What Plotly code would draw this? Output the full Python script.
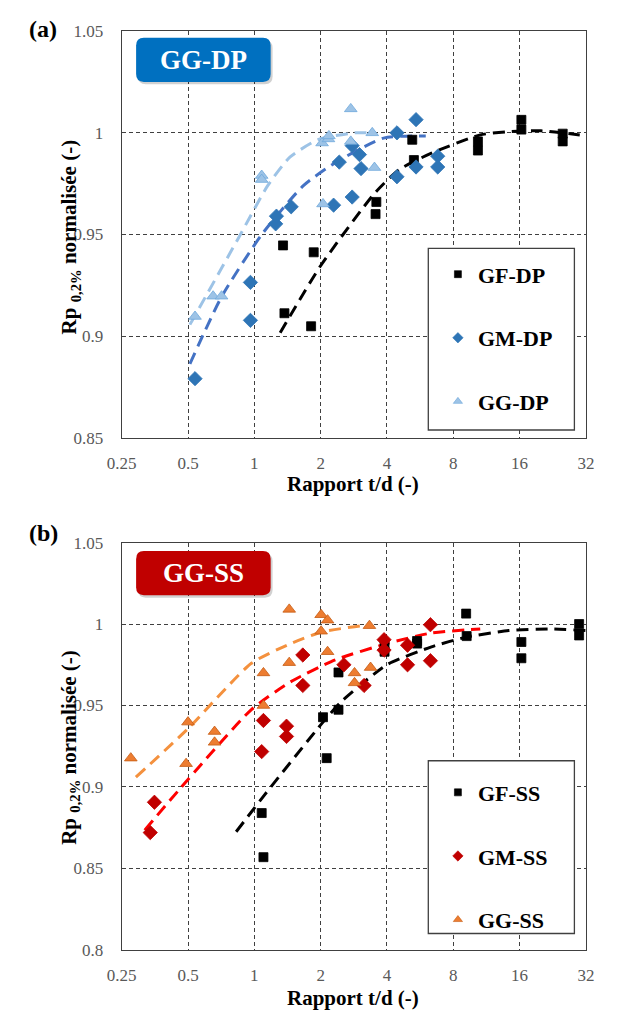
import plotly.graph_objects as go
import math

W, H = 618, 1022

# ---------------- data ----------------
x_ticks = [0.25, 0.5, 1, 2, 4, 8, 16, 32]
x_tick_text = ["0.25", "0.5", "1", "2", "4", "8", "16", "32"]
y_ticks_a = [0.85, 0.9, 0.95, 1.0, 1.05]
y_text_a = ["0.85", "0.9", "0.95", "1", "1.05"]
y_ticks_b = [0.8, 0.85, 0.9, 0.95, 1.0, 1.05]
y_text_b = ["0.8", "0.85", "0.9", "0.95", "1", "1.05"]

# (a) DP series
gf_dp_x = [1.35, 1.37, 1.86, 1.81, 3.58, 3.55, 5.21, 5.3, 10.35, 10.35, 16.3, 16.3, 25.1, 25.1]
gf_dp_y = [0.9446, 0.9112, 0.9412, 0.9048, 0.966, 0.960, 0.9966, 0.9866, 0.9958, 0.9913, 1.0064, 1.0016, 0.9996, 0.9958]
gm_dp_x = [0.538, 0.96, 0.96, 1.25, 1.26, 1.47, 2.29, 2.43, 2.78, 2.78, 3.0, 3.05, 4.44, 4.44, 5.42, 5.42, 6.8, 6.8]
gm_dp_y = [0.879, 0.9264, 0.9077, 0.9552, 0.959, 0.9636, 0.9644, 0.9856, 0.9937, 0.9684, 0.9893, 0.9824, 1.0, 0.9784, 1.0065, 0.9832, 0.9885, 0.9832]
gg_dp_x = [0.538, 0.65, 0.71, 1.08, 1.08, 2.03, 2.05, 2.17, 2.18, 2.74, 2.74, 3.43, 3.51]
gg_dp_y = [0.9096, 0.9196, 0.9196, 0.979, 0.977, 0.995, 0.965, 0.997, 0.9985, 1.0118, 0.9958, 1.0, 0.9829]

# (a) trend lines
fit_gf_dp_x = [1.31, 2.0, 3.55, 4.56, 6.37, 10.6, 14.2, 20, 30]
fit_gf_dp_y = [0.9016, 0.9346, 0.9708, 0.982, 0.990, 0.999, 1.0006, 1.001, 0.999]
fit_gm_dp_x = [0.51, 0.71, 1.08, 1.67, 2.33, 3.86, 6.0]
fit_gm_dp_y = [0.8863, 0.9193, 0.9499, 0.974, 0.9853, 0.9974, 0.9985]
fit_gg_dp_x = [0.51, 0.855, 1.15, 1.45, 1.96, 2.85, 3.3]
fit_gg_dp_y = [0.9056, 0.949, 0.974, 0.988, 0.9968, 1.0, 1.0]

# (b) SS series
gf_ss_x = [1.08, 1.1, 2.05, 2.13, 2.41, 2.41, 3.9, 3.9, 5.48, 5.48, 9.15, 9.2, 16.3, 16.3, 29.8, 29.8]
gf_ss_y = [0.884, 0.8569, 0.9428, 0.9177, 0.9703, 0.9474, 0.987, 0.983, 0.9896, 0.988, 1.0064, 0.9926, 0.989, 0.979, 1.0, 0.993]
gm_ss_x = [0.337, 0.352, 1.08, 1.1, 1.4, 1.4, 1.66, 1.66, 2.55, 3.15, 3.88, 3.88, 4.96, 4.96, 6.3, 6.3]
gm_ss_y = [0.872, 0.8906, 0.9217, 0.9408, 0.9373, 0.931, 0.981, 0.9623, 0.975, 0.9623, 0.9904, 0.984, 0.987, 0.975, 0.9996, 0.9775]
gg_ss_x = [0.275, 0.49, 0.5, 0.66, 0.66, 1.1, 1.1, 1.44, 1.44, 2.01, 2.01, 2.15, 2.15, 2.85, 2.85, 3.33, 3.37]
gg_ss_y = [0.9177, 0.9143, 0.9398, 0.934, 0.9274, 0.950, 0.97, 1.009, 0.9763, 1.0057, 0.9956, 1.0024, 0.983, 0.97, 0.9639, 0.999, 0.9733]

fit_gf_ss_x = [0.827, 1.12, 2.05, 2.5, 4.0, 6.37, 9.2, 14.3, 22, 32]
fit_gf_ss_y = [0.8725, 0.8956, 0.9398, 0.9528, 0.975, 0.986, 0.992, 0.996, 0.997, 0.996]
fit_gm_ss_x = [0.318, 0.5, 0.97, 1.46, 2.33, 4.0, 6.37, 10.6]
fit_gm_ss_y = [0.8735, 0.9046, 0.9475, 0.9645, 0.978, 0.988, 0.9945, 0.997]
fit_gg_ss_x = [0.29, 0.5, 0.97, 1.46, 2.01, 3.1, 3.4]
fit_gg_ss_y = [0.906, 0.9358, 0.9759, 0.988, 0.995, 0.999, 0.999]

# ---------------- styling ----------------
SERIF = "Liberation Serif"
C_BLACK = "#000000"
C_GM_DP = "#2E75B6"
C_GG_DP = "#9DC3E6"
C_GM_SS = "#C00000"
C_GG_SS = "#ED7D31"


def px(x):
    return x / W


def py(y):
    return 1 - y / H


def rrect(x0, y0, x1, y1, r):
    return (f"M {px(x0 + r)},{py(y0)} L {px(x1 - r)},{py(y0)} Q {px(x1)},{py(y0)} {px(x1)},{py(y0 + r)} "
            f"L {px(x1)},{py(y1 - r)} Q {px(x1)},{py(y1)} {px(x1 - r)},{py(y1)} "
            f"L {px(x0 + r)},{py(y1)} Q {px(x0)},{py(y1)} {px(x0)},{py(y1 - r)} "
            f"L {px(x0)},{py(y0 + r)} Q {px(x0)},{py(y0)} {px(x0 + r)},{py(y0)} Z")


fig = go.Figure()

dash = "12px,7px"


def add_fit(x, y, color, xa, ya):
    fig.add_trace(go.Scatter(x=x, y=y, mode="lines",
                             line=dict(color=color, width=3, dash=dash, shape="spline", smoothing=0.6),
                             showlegend=False, hoverinfo="skip", xaxis=xa, yaxis=ya))


def add_pts(x, y, name, symbol, color, size, line_color, legend, group, xa, ya, leg_size):
    fig.add_trace(go.Scatter(x=x, y=y, mode="markers", name=name, showlegend=False,
                             marker=dict(symbol=symbol, color=color, size=size, line=dict(color=line_color, width=0.8)),
                             legendgroup=group, xaxis=xa, yaxis=ya))
    # legend entry with the small marker of the reference legend
    fig.add_trace(go.Scatter(x=[None], y=[None], mode="markers", name=f"<b>{name}</b>",
                             marker=dict(symbol=symbol, color=color, size=leg_size, line=dict(color=line_color, width=0.6)),
                             legend=legend, legendgroup=group, xaxis=xa, yaxis=ya, hoverinfo="skip"))


# panel (a)
add_fit(fit_gg_dp_x, fit_gg_dp_y, C_GG_DP, "x", "y")
add_fit(fit_gm_dp_x, fit_gm_dp_y, "#4472C4", "x", "y")
add_fit(fit_gf_dp_x, fit_gf_dp_y, C_BLACK, "x", "y")
add_pts(gf_dp_x, gf_dp_y, "GF-DP", "square", C_BLACK, 9, C_BLACK, "legend", "a1", "x", "y", 7)
add_pts(gm_dp_x, gm_dp_y, "GM-DP", "diamond", C_GM_DP, 11, C_GM_DP, "legend", "a2", "x", "y", 8)
add_pts(gg_dp_x, gg_dp_y, "GG-DP", "triangle-up", C_GG_DP, 11, "#6FA8DC", "legend", "a3", "x", "y", 8)

# panel (b)
add_fit(fit_gg_ss_x, fit_gg_ss_y, "#F4913E", "x2", "y2")
add_fit(fit_gm_ss_x, fit_gm_ss_y, "#FF0000", "x2", "y2")
add_fit(fit_gf_ss_x, fit_gf_ss_y, C_BLACK, "x2", "y2")
add_pts(gf_ss_x, gf_ss_y, "GF-SS", "square", C_BLACK, 9, C_BLACK, "legend2", "b1", "x2", "y2", 7)
add_pts(gm_ss_x, gm_ss_y, "GM-SS", "diamond", C_GM_SS, 11, C_GM_SS, "legend2", "b2", "x2", "y2", 8)
add_pts(gg_ss_x, gg_ss_y, "GG-SS", "triangle-up", C_GG_SS, 11, "#C55A11", "legend2", "b3", "x2", "y2", 8)

xdom = [px(111), px(594)]
ydom_a = [py(436.7), py(22.7)]
ydom_b = [py(958.7), py(543.7)]

common_x = dict(type="log", range=[math.log10(0.25), math.log10(32)], tickvals=x_ticks, ticktext=x_tick_text,
                showgrid=True, gridcolor="#404040", griddash="4px,3px", gridwidth=1,
                showline=True, linecolor="#404040", linewidth=1.3, mirror=True,
                ticks="outside", ticklen=10, tickcolor="rgba(0,0,0,0)",
                tickfont=dict(family=SERIF, size=17, color="#595959"), zeroline=False, domain=xdom)
common_y = dict(dtick=0.05, showgrid=True, gridcolor="#404040", griddash="4px,3px", gridwidth=1,
                showline=True, linecolor="#404040", linewidth=1.3, mirror=True,
                ticks="outside", ticklen=14, tickcolor="rgba(0,0,0,0)",
                tickfont=dict(family=SERIF, size=17, color="#595959"), zeroline=False)

shapes = []
# legend boxes
for (x0, y0, x1, y1) in [(430, 244, 582, 429), (430, 766, 582, 942)]:
    shapes.append(dict(type="rect", xref="paper", yref="paper", x0=px(x0), x1=px(x1), y0=py(y1), y1=py(y0),
                       fillcolor="white", line=dict(color="#404040", width=1.3), layer="above"))
# title boxes with shadow
for (y0, col) in [(29.3, "#0070C0"), (552.3, "#C00000")]:
    shapes.append(dict(type="path", xref="paper", yref="paper", path=rrect(128, y0 + 2.5, 268, y0 + 47.5, 8),
                       fillcolor="rgba(0,0,0,0.18)", line=dict(width=0), layer="above"))
    shapes.append(dict(type="path", xref="paper", yref="paper", path=rrect(126, y0, 266, y0 + 45, 8),
                       fillcolor=col, line=dict(width=0), layer="above"))

ann = []
for (yc, txt) in [(52, "GG-DP"), (575, "GG-SS")]:
    ann.append(dict(xref="paper", yref="paper", x=px(196), y=py(yc), text=f"<b>{txt}</b>", showarrow=False,
                    font=dict(family=SERIF, size=27, color="white"), xanchor="center", yanchor="middle"))
for (yc, txt) in [(20, "(a)"), (534, "(b)")]:
    ann.append(dict(xref="paper", yref="paper", x=px(13), y=py(yc), text=f"<b>{txt}</b>", showarrow=False,
                    font=dict(family=SERIF, size=24, color="black"), xanchor="left", yanchor="middle"))
for yc in [484, 1008]:
    ann.append(dict(xref="paper", yref="paper", x=px(352), y=py(yc), text="<b>Rapport t/d (-)</b>", showarrow=False,
                    font=dict(family=SERIF, size=21, color="black"), xanchor="center", yanchor="middle"))
for yc in [232, 752]:
    ann.append(dict(xref="paper", yref="paper", x=px(57), y=py(yc), text="<b>Rp <sub>0,2%</sub> normalisée (-)</b>",
                    showarrow=False, textangle=-90,
                    font=dict(family=SERIF, size=21, color="black"), xanchor="center", yanchor="middle"))

leg_common = dict(bgcolor="rgba(0,0,0,0)", borderwidth=0, font=dict(family=SERIF, size=22, color="black"),
                  tracegroupgap=32, xanchor="left", yanchor="top", itemsizing="trace", itemwidth=30)

fig.update_layout(
    width=W, height=H, margin=dict(l=0, r=0, t=0, b=0),
    paper_bgcolor="white", plot_bgcolor="white",
    xaxis=dict(**common_x, anchor="y"),
    yaxis=dict(**common_y, range=[0.85, 1.05], tickvals=y_ticks_a, ticktext=y_text_a, domain=ydom_a, anchor="x"),
    xaxis2=dict(**common_x, anchor="y2"),
    yaxis2=dict(**common_y, range=[0.8, 1.05], tickvals=y_ticks_b, ticktext=y_text_b, domain=ydom_b, anchor="x2"),
    shapes=shapes, annotations=ann,
    legend=dict(**leg_common, x=px(440), y=py(249)),
    legend2=dict(**leg_common, x=px(440), y=py(777)),
)

fig.write_html("out.html", config={"displayModeBar": False},
               post_script="document.body.style.margin='0px';")
